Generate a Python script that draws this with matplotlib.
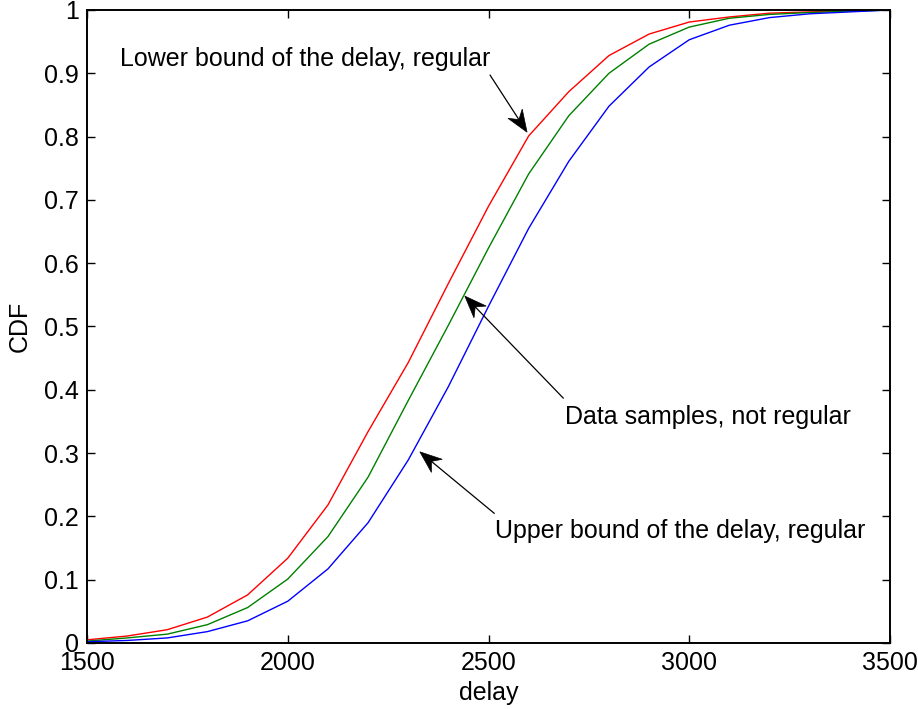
import matplotlib
matplotlib.use("Agg")
import matplotlib.pyplot as plt
from matplotlib.patches import Polygon
import numpy as np

delay = [1500, 1600, 1700, 1800, 1900, 2000, 2100, 2200, 2300, 2400, 2500,
         2600, 2700, 2800, 2900, 3000, 3100, 3200, 3300, 3400, 3500]
lower_bound = [0.005, 0.011, 0.021, 0.041, 0.076, 0.134, 0.218, 0.334, 0.443, 0.568, 0.690,
               0.801, 0.871, 0.928, 0.962, 0.981, 0.989, 0.995, 0.997, 0.999, 1.0]
samples = [0.003, 0.008, 0.014, 0.029, 0.056, 0.101, 0.168, 0.262, 0.383, 0.502, 0.624,
           0.741, 0.833, 0.900, 0.946, 0.973, 0.987, 0.993, 0.996, 0.998, 1.0]
upper_bound = [0.002, 0.004, 0.008, 0.018, 0.035, 0.066, 0.117, 0.190, 0.289, 0.405, 0.532,
               0.655, 0.761, 0.848, 0.910, 0.953, 0.976, 0.988, 0.994, 0.997, 1.0]

xticks = [1500, 2000, 2500, 3000, 3500]
yticks = [0, 0.1, 0.2, 0.3, 0.4, 0.5, 0.6, 0.7, 0.8, 0.9, 1]
ytick_labels = ["0", "0.1", "0.2", "0.3", "0.4", "0.5", "0.6", "0.7", "0.8", "0.9", "1"]

plt.rcParams['font.family'] = ['Liberation Sans', 'DejaVu Sans']
fs = 18

fig = plt.figure(figsize=(9.18, 7.09), dpi=100)
ax = fig.add_axes([0.0948, 0.0931, 0.8747, 0.8928])

ax.plot(delay, lower_bound, color='#ff0000', lw=1.0)
ax.plot(delay, samples, color='#008000', lw=1.0)
ax.plot(delay, upper_bound, color='#0000ff', lw=1.0)

ax.set_xlim(1500, 3500)
ax.set_ylim(0, 1)
ax.set_xticks(xticks)
ax.set_xticklabels([str(v) for v in xticks])
ax.set_yticks(yticks)
ax.set_yticklabels(ytick_labels)
ax.tick_params(direction='in', top=True, right=True, length=6, width=1,
               labelsize=fs, pad=6)
ax.tick_params(axis='y', pad=6)
for s in ax.spines.values():
    s.set_linewidth(1.4)
ax.set_xlabel('delay', fontsize=fs, labelpad=4)
ax.set_ylabel('CDF', fontsize=fs, labelpad=9)


def notched_arrow(tail, tip, L=22, W=8.5, N=15):
    p_tail = ax.transData.transform(tail)
    p_tip = ax.transData.transform(tip)
    d = p_tail - p_tip
    u = d / np.hypot(*d)
    n = np.array([-u[1], u[0]])
    c1 = p_tip + u * L + n * W
    c2 = p_tip + u * L - n * W
    notch = p_tip + u * N
    ax.add_line(plt.Line2D([p_tail[0], notch[0]], [p_tail[1], notch[1]],
                           transform=None, color='k', lw=0.9))
    head = Polygon([p_tip, c1, notch, c2], closed=True, transform=None,
                   facecolor='k', edgecolor='k', lw=0.5)
    ax.add_patch(head)


notched_arrow((2504, 0.897), (2596, 0.807))
ax.text(1582, 0.922, 'Lower bound of the delay, regular', fontsize=fs, va='center', ha='left')

notched_arrow((2686, 0.387), (2441, 0.548))
ax.text(2690, 0.357, 'Data samples, not regular', fontsize=fs, va='center', ha='left')

notched_arrow((2514, 0.205), (2329, 0.302))
ax.text(2516, 0.177, 'Upper bound of the delay, regular', fontsize=fs, va='center', ha='left')

fig.savefig('out.png', dpi=100)
